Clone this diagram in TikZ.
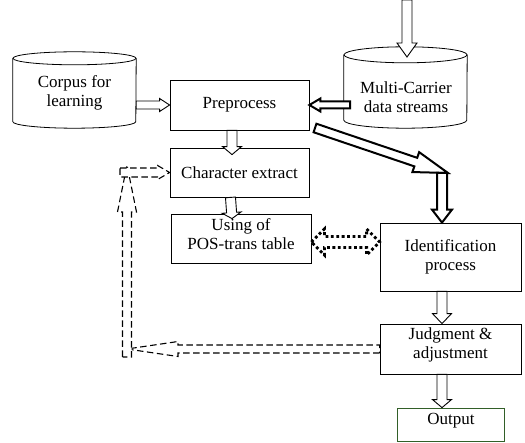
\documentclass[tikz,border=0pt]{standalone}
\usepackage{fontspec}
\setmainfont{Liberation Serif}
\newfontfamily\tnr{Liberation Serif}
\usetikzlibrary{calc}
\definecolor{outgreen}{RGB}{50,95,40}
\tikzset{
  box/.style={draw, line width=0.8pt, inner sep=0pt, align=center, font=\tnr\fontsize{17}{19}\selectfont},
  body/.style={inner sep=0pt},
  lbl/.style={inner sep=0pt, align=center, font=\tnr\fontsize{17}{19}\selectfont},
  cyl/.style={line width=0.8pt},
  arr/.style={draw, fill=white, line width=0.9pt, line join=miter},
  thickarr/.style={line width=2pt},
  dasharr/.style={dash pattern=on 6.5pt off 3.5pt, line width=1.1pt},
  dotarr/.style={dash pattern=on 2.8pt off 2.6pt, line width=2.8pt, line cap=butt}
}
% single-headed block arrow: [style]{from}{to}{shaft half}{head half}{head length}
\newcommand\blockarr[6][]{%
  \path[arr,#1] let \p1=($(#3)!#6!(#2)$) in
    ($(#2)!#4!90:(#3)$) -- ($(\p1)!#4!90:(#3)$) -- ($(\p1)!#5!90:(#3)$) -- (#3)
    -- ($(\p1)!#5!-90:(#3)$) -- ($(\p1)!#4!-90:(#3)$) -- ($(#2)!#4!-90:(#3)$) -- cycle;}
% double-headed block arrow
\newcommand\dblarr[6][]{%
  \path[arr,#1] let \p1=($(#2)!#6!(#3)$), \p2=($(#3)!#6!(#2)$) in
    (#2) -- ($(\p1)!#5!90:(#3)$) -- ($(\p1)!#4!90:(#3)$) -- ($(\p2)!#4!90:(#3)$) -- ($(\p2)!#5!90:(#3)$)
    -- (#3) -- ($(\p2)!#5!-90:(#3)$) -- ($(\p2)!#4!-90:(#3)$) -- ($(\p1)!#4!-90:(#3)$) -- ($(\p1)!#5!-90:(#3)$) -- cycle;}
% cylinder drawn around a body node: {node}{x radius}{y radius}
\newcommand\drawcyl[3]{%
  \draw[cyl] ($(#1.north)+(0,-#3)$) ellipse[x radius=#2, y radius=#3];
  \draw[cyl] ($(#1.north west)+(0,-#3)$) -- ($(#1.south west)+(0,#3)$)
    arc[start angle=180, end angle=360, x radius=#2, y radius=#3]
    -- ($(#1.north east)+(0,-#3)$);}
\begin{document}
\begin{tikzpicture}[x=1pt, y=-1pt]
\useasboundingbox (0,0) rectangle (525,443);
\fill[white] (0,0) rectangle (525,443);

% cylinders
\node[body, minimum width=123pt, minimum height=76pt] (cor) at (74.5,90) {};
\node[body, minimum width=123pt, minimum height=81pt] (mul) at (405.5,87.5) {};
\drawcyl{cor}{61.5pt}{6.5pt}
\drawcyl{mul}{61.5pt}{8pt}
\node[lbl] (corT) at (74.5,93) {Corpus for\\learning};
\node[lbl] (mulT) at (406,97) {Multi-Carrier\\data streams};

% boxes
\node[box, minimum width=139pt, minimum height=50pt] (pre) at (239.5,105) {Preprocess};
\node[box, minimum width=139pt, minimum height=49pt] (chr) at (239.5,172.5) {Character extract};
\node[box, minimum width=140pt, minimum height=49pt] (pos) at (241,238.5) {};
\node[box, minimum width=141pt, minimum height=68pt] (idn) at (450.5,257) {Identification\\process};
\node[box, minimum width=141pt, minimum height=50pt] (jud) at (450.5,349) {};
\node[box, draw=outgreen, minimum width=107pt, minimum height=33pt] (out) at (451,424.5) {};

% coordinates
\coordinate (topin) at (407,0);
\coordinate (mtip) at (407,57);
\coordinate (mstart) at (350,105);
\coordinate (dstart) at (315,128);
\coordinate (dtip) at (448,173);
\coordinate (bend) at (442,173);
\coordinate (vbot) at (127,357);
\coordinate (vtop) at (127,165);
\coordinate (hstart) at (120,172.5);
\coordinate (dA) at ([yshift=-3.5pt]pos.east);

% solid block arrows
\blockarr{topin}{mtip}{5pt}{10pt}{14pt}
\blockarr{cor.east |- pre.west}{pre.west}{4pt}{6.5pt}{10pt}
\blockarr[thickarr]{mstart}{pre.east}{3.5pt}{6.5pt}{11pt}
\blockarr{[xshift=-7.5pt]pre.south}{[xshift=-7.5pt,yshift=-7pt]chr.north}{5pt}{9.5pt}{8pt}
\blockarr{[xshift=-9pt]chr.south}{[xshift=-9pt,yshift=-5pt]pos.north}{5pt}{9.5pt}{6pt}
\blockarr[thickarr]{dstart}{dtip}{4.5pt}{10.5pt}{34pt}
\blockarr[thickarr]{bend}{bend |- idn.north}{5pt}{10pt}{13pt}
\blockarr{bend |- idn.south}{bend |- jud.north}{5pt}{9.5pt}{10pt}
\blockarr{bend |- jud.south}{bend |- out.north}{5pt}{9.5pt}{8pt}

% dotted double arrow
\dblarr[dotarr]{dA}{dA -| idn.west}{5.5pt}{13pt}{13pt}

% dashed feedback arrows
\blockarr[dasharr]{jud.west}{vbot |- jud.west}{4pt}{7.5pt}{51pt}
\blockarr[dasharr]{vbot}{vtop}{4.5pt}{9.5pt}{47pt}
\blockarr[dasharr]{hstart}{chr.west}{4.5pt}{7pt}{12pt}

% texts on top
\node[lbl] (posT) at (241,234.5) {Using of\\POS-trans table};
\node[lbl] (judT) at (450.5,345) {Judgment \&\\adjustment};
\node[lbl] (outT) at (451,421) {Output};
\end{tikzpicture}
\end{document}
